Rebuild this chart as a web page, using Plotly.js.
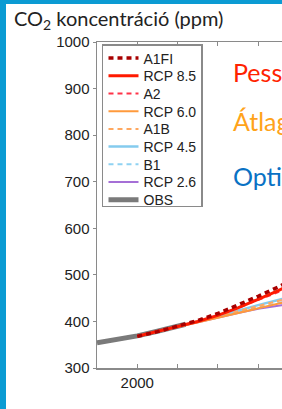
<!DOCTYPE html>
<html><head><meta charset="utf-8">
<script src="https://cdn.plot.ly/plotly-3.0.1.min.js"></script>
<style>
html,body{margin:0;padding:0;overflow:hidden;width:282px;height:409px;background:#fff;}
#chart{position:absolute;left:0;top:0;}
.frameTop{position:absolute;left:0;top:0;width:282px;height:4px;background:#0b9bd3;z-index:5;}
.frameLeft{position:absolute;left:0;top:0;width:6px;height:409px;background:#0b9bd3;z-index:5;}
</style></head>
<body>
<div id="chart"></div>
<div class="frameTop"></div><div class="frameLeft"></div>
<script>
// Data
const obsYears = [1990, 1995, 2000, 2005, 2010, 2012];
const obsCO2   = [354, 361, 369, 379, 389, 394];
const scenYears = [2000, 2005, 2010, 2015, 2020, 2025, 2030, 2035, 2040];
const a1fi  = [368, 378, 390, 402, 417, 435, 454, 474, 497];
const rcp85 = [368, 378, 389, 400, 413, 429, 447, 466, 487];
const a2    = [368, 378, 389, 401, 414, 429, 446, 463, 483];
const rcp60 = [368, 378, 389, 399, 409, 419, 429, 438, 448];
const a1b   = [368, 378, 389, 400, 411, 422, 433, 444, 455];
const rcp45 = [368, 378, 389, 400, 412, 423, 435, 446, 457];
const b1    = [368, 378, 389, 399, 410, 420, 430, 440, 449];
const rcp26 = [368, 378, 389, 399, 409, 418, 427, 434, 440];

const W = 600, H = 409;
const L = 97, T = 42, B = 41;
const xr = [1990, 2100];
const pxPerYear = 4.03;
const plotW = (xr[1]-xr[0])*pxPerYear;
const R = W - L - plotW;
const px = x => (x - L)/plotW;
const py = y => 1 - (y - T)/(H - T - B);
const legendStep = 17.7;

function sc(name, y, color, dash, width){
  return {x: scenYears, y: y, name: name, type:'scatter', mode:'lines',
          line:{color:color, dash:dash, width:width}};
}
// drawn bottom to top; legend reversed
const traces = [
  {x: obsYears, y: obsCO2, name:'OBS', type:'scatter', mode:'lines', line:{color:'#7a7a7a', width:5}},
  sc('RCP 2.6', rcp26, '#a56fd6', 'solid', 2),
  sc('B1', b1, '#8fd2f2', '5px,4px', 2),
  sc('RCP 4.5', rcp45, '#84cbee', 'solid', 2.5),
  sc('A1B', a1b, '#ffa860', '5px,4px', 2),
  sc('RCP 6.0', rcp60, '#ff9a3c', 'solid', 2),
  sc('A2', a2, '#ff3348', '5px,4px', 2),
  sc('RCP 8.5', rcp85, '#ff1a00', 'solid', 3),
  sc('A1FI', a1fi, '#a80000', '5px,4px', 3.5)
];

const layout = {
  width: W, height: H,
  margin: {l: L, r: R, t: T, b: B},
  paper_bgcolor: '#fff', plot_bgcolor: '#fff',
  showlegend: true,
  font: {family: 'Liberation Sans, Arial, sans-serif', color: '#222'},
  title: {text: 'CO<sub>2</sub> koncentráció (ppm)', xref:'container', yref:'container',
          x: 14/W, xanchor:'left', y: 1 - 19/H, yanchor:'middle',
          font:{family:'Lato, sans-serif', size:20, color:'#222'}},
  xaxis: {range: xr, showgrid:false, zeroline:false, showline:true, linecolor:'#8a8a8a', linewidth:1.5,
          mirror:'ticks', ticks:'inside', ticklen:4, tickcolor:'#8a8a8a', tickwidth:1,
          tick0: 2000, dtick: 50, tickfont:{size:15, color:'#222'},
          minor:{dtick:10, tick0:2000, ticks:'inside', ticklen:4, tickcolor:'#8a8a8a', showgrid:false}},
  yaxis: {range: [300, 1000], showgrid:false, zeroline:false, showline:true, linecolor:'#8a8a8a', linewidth:1.5,
          ticks:'outside', ticklen:3, tickcolor:'#8a8a8a', dtick:100, tickfont:{size:15, color:'#222'}},
  legend: {x: px(102), y: py(44), xanchor:'left', yanchor:'top', traceorder:'reversed',
           bgcolor:'#fff', bordercolor:'#8a8a8a', borderwidth:1.5,
           font:{size:14, color:'#222'}, tracegroupgap:0},
  annotations: [
    {text:'Pesszimista', x: px(231), y: py(72), xref:'paper', yref:'paper', xanchor:'left', yanchor:'middle',
     showarrow:false, font:{family:'Lato, sans-serif', size:25, color:'#ff2200'}},
    {text:'Átlagos', x: px(231), y: py(121), xref:'paper', yref:'paper', xanchor:'left', yanchor:'middle',
     showarrow:false, font:{family:'Lato, sans-serif', size:25, color:'#ffa31a'}},
    {text:'Optimista', x: px(231), y: py(176), xref:'paper', yref:'paper', xanchor:'left', yanchor:'middle',
     showarrow:false, font:{family:'Lato, sans-serif', size:25, color:'#0a72c4'}}
  ]
};
Plotly.newPlot('chart', traces, layout, {displayModeBar:false, staticPlot:true}).then(gd => {
  // tighten legend row spacing to match the reference
  const leg = gd.querySelector('g.legend');
  if (!leg) return;
  const items = Array.from(leg.querySelectorAll('g.traces'));
  if (!items.length) return;
  const parse = el => {
    const m = /translate\(\s*([-\d.e]+)[ ,]+([-\d.e]+)\s*\)/.exec(el.getAttribute('transform') || '');
    return m ? [parseFloat(m[1]), parseFloat(m[2])] : [0, 0];
  };
  const pos = items.map(parse);
  const bg = leg.querySelector('rect.bg');
  const oldH = bg ? parseFloat(bg.getAttribute('height')) : 0;
  const bottomPad = oldH - pos[pos.length-1][1];
  const y0 = pos[0][1] - 3;
  items.forEach((el, i) => el.setAttribute('transform', `translate(${pos[i][0]},${y0 + i*legendStep})`));
  const newH = y0 + (items.length-1)*legendStep + bottomPad - 10;
  if (bg) bg.setAttribute('height', newH);
  leg.querySelectorAll('clipPath rect, rect.scrollbar').forEach(r => {
    if (r.getAttribute('height')) r.setAttribute('height', newH);
  });
});
</script>
</body></html>
